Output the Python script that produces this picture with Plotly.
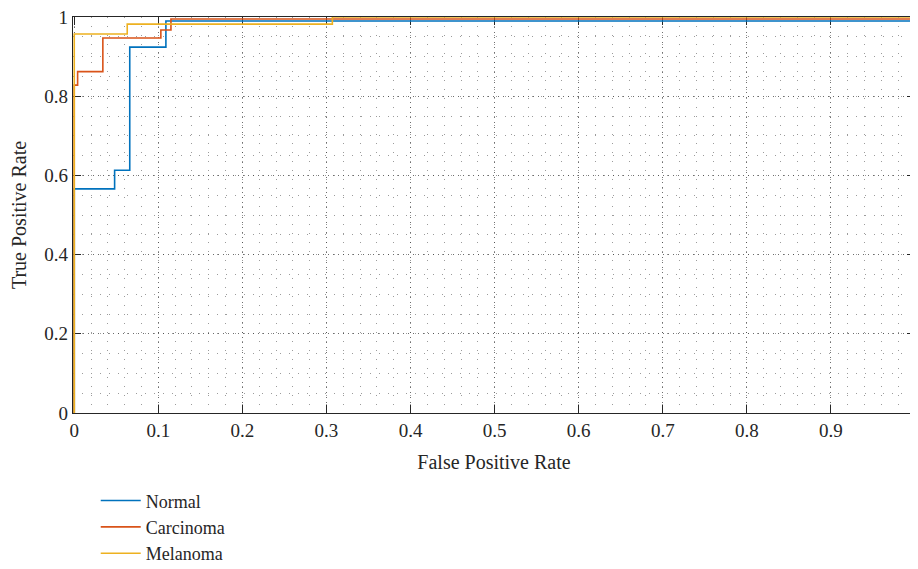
import plotly.graph_objects as go

# ROC step vertices (used with 'hv' line shape)
normal_fpr = [0, 0, 0.048, 0.066, 0.109, 1.0]
normal_tpr = [0, 0.566, 0.613, 0.924, 0.990, 0.990]

carcinoma_fpr = [0, 0, 0.004, 0.034, 0.103, 0.115, 1.0]
carcinoma_tpr = [0, 0.828, 0.862, 0.947, 0.967, 0.995, 0.995]

melanoma_fpr = [0, 0, 0.063, 0.307, 1.0]
melanoma_tpr = [0, 0.957, 0.982, 1.0, 1.0]

x_ticks = [0, 0.1, 0.2, 0.3, 0.4, 0.5, 0.6, 0.7, 0.8, 0.9, 1]
x_labels = ["0", "0.1", "0.2", "0.3", "0.4", "0.5", "0.6", "0.7", "0.8", "0.9", "1"]
y_ticks = [0, 0.2, 0.4, 0.6, 0.8, 1]
y_labels = ["0", "0.2", "0.4", "0.6", "0.8", "1"]

series = [
    ("Normal", normal_fpr, normal_tpr, "#0072BD"),
    ("Carcinoma", carcinoma_fpr, carcinoma_tpr, "#D95319"),
    ("Melanoma", melanoma_fpr, melanoma_tpr, "#EDB120"),
]

FONT = "Liberation Serif"
TXT = "#262626"

fig = go.Figure()
for name, fx, fy, col in series:
    fig.add_trace(go.Scatter(
        x=fx, y=fy, mode="lines", name=name,
        line=dict(color=col, width=1.6, shape="hv"),
    ))

axis_common = dict(
    showline=True, linecolor=TXT, linewidth=1.2, mirror="ticks",
    ticks="inside", ticklen=8, tickcolor=TXT, tickwidth=1,
    showgrid=True, gridcolor="rgba(60,60,60,0.75)", gridwidth=1, griddash="1px,4px",
    zeroline=False, automargin=False, layer="below traces",
    ticklabeloverflow="allow",
    tickfont=dict(family=FONT, size=19, color=TXT),
)

fig.update_xaxes(
    range=[-0.0015, 1], tickvals=x_ticks, ticktext=x_labels,
    title=dict(text="False Positive Rate", font=dict(family=FONT, size=20, color=TXT), standoff=15),
    minor=dict(dtick=0.02, showgrid=True, gridcolor="rgba(90,90,90,0.6)", griddash="1px,8px", gridwidth=1, ticks=""),
    **axis_common,
)
fig.update_yaxes(
    range=[0, 1], tickvals=y_ticks, ticktext=y_labels,
    title=dict(text="True Positive Rate", font=dict(family=FONT, size=20, color=TXT), standoff=14),
    minor=dict(dtick=0.05, showgrid=True, gridcolor="rgba(90,90,90,0.6)", griddash="1px,8px", gridwidth=1, ticks=""),
    **axis_common,
)

fig.update_layout(
    width=910, height=577,
    margin=dict(l=65, r=3, t=9, b=172),
    paper_bgcolor="white", plot_bgcolor="white",
    showlegend=True,
    legend=dict(
        x=0.027, y=-0.175, xanchor="left", yanchor="top",
        font=dict(family=FONT, size=18, color=TXT),
        bgcolor="rgba(0,0,0,0)", tracegroupgap=0, itemwidth=40,
    ),
)

fig.write_html("out.html")
